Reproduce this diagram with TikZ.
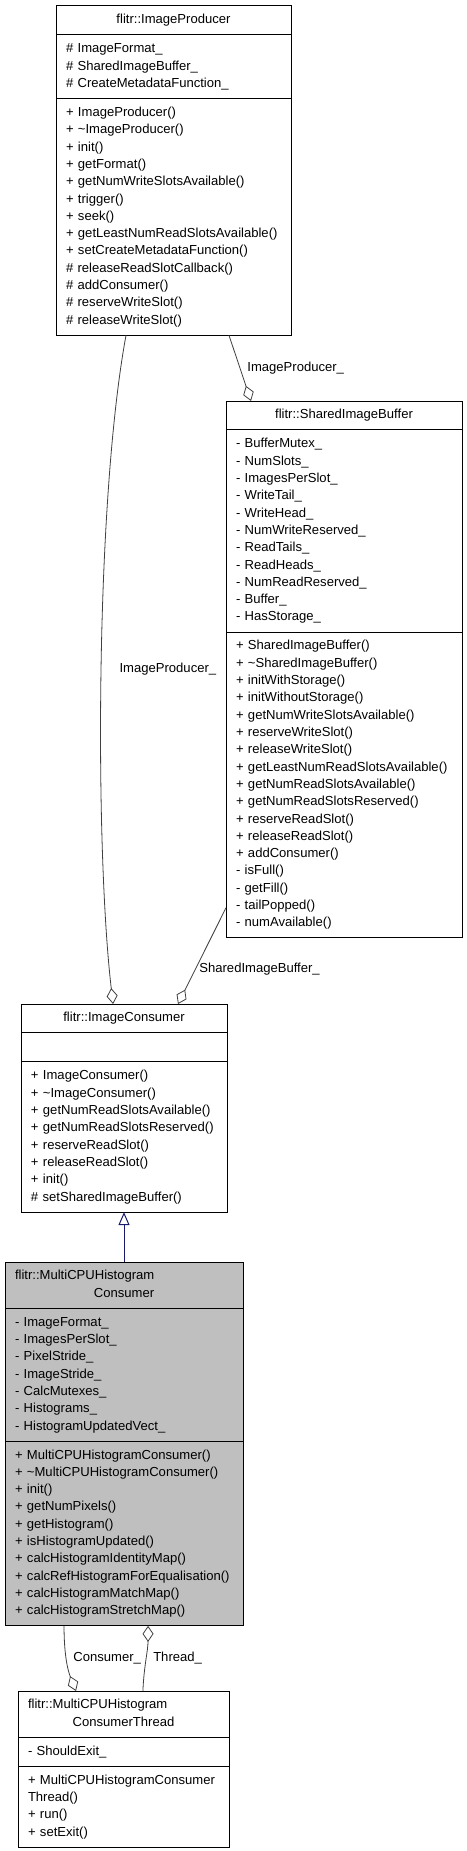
\documentclass[tikz,border=0pt]{standalone}
\usepackage{fontspec}
\setmainfont{Liberation Sans}
\usetikzlibrary{shapes.multipart,arrows.meta,calc}

\newcommand{\umlfont}{\fontsize{9.8pt}{12.98pt}\selectfont}
\newcommand{\umlstrut}{\rule[-3.9pt]{0pt}{12.98pt}}
\newcommand{\umlrows}[1]{\umlstrut#1\umlstrut}
\newcommand{\umltitle}[1]{\hbox to\hsize{\hfil\umlstrut#1\hfil}}

\definecolor{edgegray}{HTML}{404040}
\definecolor{classgray}{HTML}{BFBFBF}
\definecolor{inheritblue}{HTML}{191970}

\begin{document}
\begin{tikzpicture}[x=0.75pt,y=-0.75pt,font=\umlfont,
  aggr/.style={-{Diamond[open,length=12pt,width=8.25pt]},draw=edgegray,line width=0.6pt},
  inherit/.style={-{Triangle[open,length=9.75pt,width=8.25pt]},draw=inheritblue,line width=0.75pt},
  lbl/.style={inner sep=0pt,anchor=west}]
\tikzstyle{umlclass}=[draw=black,line width=0.75pt,rectangle split,rectangle split parts=3,
  anchor=north west,align=left,inner xsep=7.5pt,inner ysep=4pt,outer sep=0pt]
\path[fill=white,use as bounding box] (0,0) rectangle (467,1851);

\node[umlclass,text width=161.25pt] (prod) at (56,6) {\umltitle{flitr::ImageProducer}
  \nodepart{second}\umlrows{\# ImageFormat\_\\\# SharedImageBuffer\_\\\# CreateMetadataFunction\_}
  \nodepart{third}\umlrows{+ ImageProducer()\\+ \textasciitilde ImageProducer()\\+ init()\\+ getFormat()\\
  + getNumWriteSlotsAvailable()\\+ trigger()\\+ seek()\\+ getLeastNumReadSlotsAvailable()\\
  + setCreateMetadataFunction()\\\# releaseReadSlotCallback()\\\# addConsumer()\\
  \# reserveWriteSlot()\\\# releaseWriteSlot()}};
\node[umlclass,text width=162pt] (buf) at (226,401) {\umltitle{flitr::SharedImageBuffer}
  \nodepart{second}\umlrows{- BufferMutex\_\\- NumSlots\_\\- ImagesPerSlot\_\\- WriteTail\_\\
  - WriteHead\_\\- NumWriteReserved\_\\- ReadTails\_\\- ReadHeads\_\\- NumReadReserved\_\\
  - Buffer\_\\- HasStorage\_}
  \nodepart{third}\umlrows{+ SharedImageBuffer()\\+ \textasciitilde SharedImageBuffer()\\
  + initWithStorage()\\+ initWithoutStorage()\\+ getNumWriteSlotsAvailable()\\
  + reserveWriteSlot()\\+ releaseWriteSlot()\\+ getLeastNumReadSlotsAvailable()\\
  + getNumReadSlotsAvailable()\\+ getNumReadSlotsReserved()\\+ reserveReadSlot()\\
  + releaseReadSlot()\\+ addConsumer()\\- isFull()\\- getFill()\\- tailPopped()\\
  - numAvailable()}};
\node[umlclass,text width=139.5pt] (cons) at (21,1004) {\umltitle{flitr::ImageConsumer}
  \nodepart{second}\umlstrut
  \nodepart{third}\umlrows{+ ImageConsumer()\\+ \textasciitilde ImageConsumer()\\
  + getNumReadSlotsAvailable()\\+ getNumReadSlotsReserved()\\+ reserveReadSlot()\\
  + releaseReadSlot()\\+ init()\\\# setSharedImageBuffer()}};
\node[umlclass,fill=classgray,text width=163.5pt] (multi) at (5,1262)
  {\hbox to\hsize{\umlstrut flitr::MultiCPUHistogram\hfil}\\\hbox to\hsize{\hfil Consumer\umlstrut\hfil}
  \nodepart{second}\umlrows{- ImageFormat\_\\- ImagesPerSlot\_\\- PixelStride\_\\- ImageStride\_\\
  - CalcMutexes\_\\- Histograms\_\\- HistogramUpdatedVect\_}
  \nodepart{third}\umlrows{+ MultiCPUHistogramConsumer()\\+ \textasciitilde MultiCPUHistogramConsumer()\\
  + init()\\+ getNumPixels()\\+ getHistogram()\\+ isHistogramUpdated()\\
  + calcHistogramIdentityMap()\\+ calcRefHistogramForEqualisation()\\
  + calcHistogramMatchMap()\\+ calcHistogramStretchMap()}};
\node[umlclass,text width=143.25pt] (thread) at (18,1691)
  {\hbox to\hsize{\umlstrut flitr::MultiCPUHistogram\hfil}\\\hbox to\hsize{\hfil ConsumerThread\umlstrut\hfil}
  \nodepart{second}\umlrows{- ShouldExit\_}
  \nodepart{third}\umlrows{+ MultiCPUHistogramConsumer\\Thread()\\+ run()\\+ setExit()}};

\draw[aggr] ($(prod.south west)!0.298!(prod.south east)$) .. controls +(-31,168) and +(-18,-154)
  .. ($(cons.north west)!0.447!(cons.north east)$) node[lbl,pos=0.5,xshift=13.5pt,yshift=4.5pt]{ImageProducer\_};
\draw[aggr] ($(prod.south west)!0.736!(prod.south east)$) -- ($(buf.north west)!0.106!(buf.north east)$)
  node[lbl,midway,xshift=5.25pt]{ImageProducer\_};
\draw[aggr] ($(buf.north west)!0.944!(buf.south west)$) -- ($(cons.north west)!0.762!(cons.north east)$)
  node[lbl,pos=0.64,xshift=2.8pt]{SharedImageBuffer\_};
\draw[inherit] (multi.north) -- (cons.south);
\draw[aggr] ($(multi.south west)!0.248!(multi.south east)$) .. controls +(0,30) and +(-8,-20)
  .. ($(thread.north west)!0.275!(thread.north east)$) node[lbl,pos=0.5,xshift=4.5pt,yshift=2.8pt]{Consumer\_};
\draw[aggr] ($(thread.north west)!0.592!(thread.north east)$) .. controls +(1,-25) and +(0,25)
  .. ($(multi.south west)!0.601!(multi.south east)$) node[lbl,pos=0.5,xshift=5.25pt]{Thread\_};
\end{tikzpicture}
\end{document}
